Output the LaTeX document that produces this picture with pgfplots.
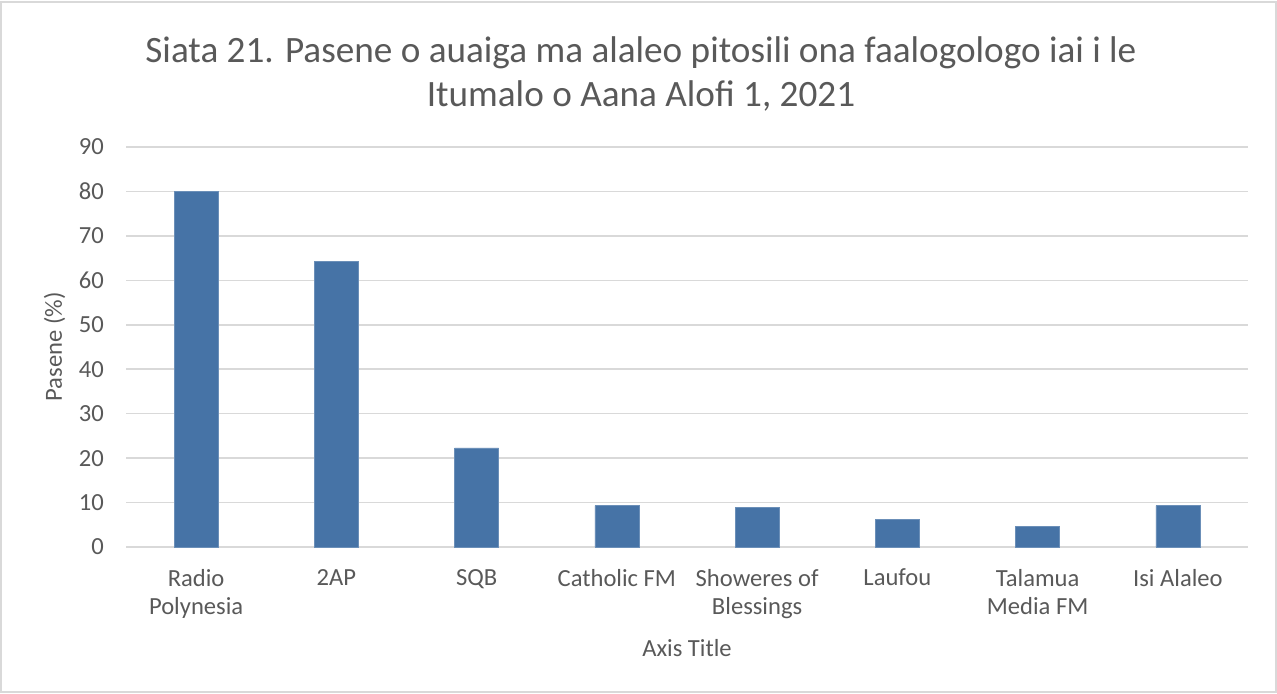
\documentclass[border=0pt]{standalone}
\usepackage{pgfplots}
\pgfplotsset{compat=1.18}
\usepackage{fontspec}
\setmainfont{Carlito}
\definecolor{txt}{HTML}{595959}
\definecolor{grid}{HTML}{D9D9D9}
\definecolor{bar}{RGB}{70,115,166}
\begin{document}
\begin{tikzpicture}
\useasboundingbox (0,0) rectangle (638.5pt,346.5pt);
\draw[color=grid,line width=0.6pt] (0.5pt,0.5pt) rectangle (638pt,345.5pt);
\node[anchor=base,text=txt,font=\fontsize{18.6}{22}\selectfont] at (320.5pt,315.5pt) {Siata 21. Pasene o auaiga ma alaleo pitosili ona faalogologo iai i le};
\node[anchor=base,text=txt,font=\fontsize{18.6}{22}\selectfont] at (320.5pt,293.5pt) {Itumalo o Aana Alofi 1, 2021};
\begin{axis}[
  at={(63pt,73pt)}, anchor=south west,
  scale only axis, width=561pt, height=200pt,
  xmin=-0.5, xmax=7.5, ymin=0, ymax=90,
  ytick={0,10,...,90},
  xtick={0,...,7},
  xticklabels={Radio\\Polynesia,2AP,SQB,Catholic FM,Showeres of\\Blessings,Laufou,Talamua\\Media FM,Isi Alaleo},
  xticklabel style={align=center,font=\fontsize{12.3}{14}\selectfont,text=txt,yshift=-7.5pt},
  yticklabel style={font=\fontsize{12.3}{14}\selectfont,text=txt,xshift=-7.5pt},
  major tick length=0pt,
  axis line style={draw=none},
  ymajorgrids,
  major grid style={color=grid,line width=0.75pt},
  ybar, bar width=22pt,
  xlabel={Axis Title}, ylabel={Pasene (\%)},
  xlabel style={font=\fontsize{12.3}{14}\selectfont,text=txt,yshift=-3.5pt},
  ylabel style={font=\fontsize{12.3}{14}\selectfont,text=txt,yshift=0pt},
  /pgf/number format/assume math mode=true,
]
\addplot[fill=bar,draw=bar!80!white,line width=0.3pt] coordinates {
(0,80.0) (1,64.3) (2,22.3) (3,9.3) (4,9.0) (5,6.2) (6,4.6) (7,9.3)};
\end{axis}
\end{tikzpicture}
\end{document}
